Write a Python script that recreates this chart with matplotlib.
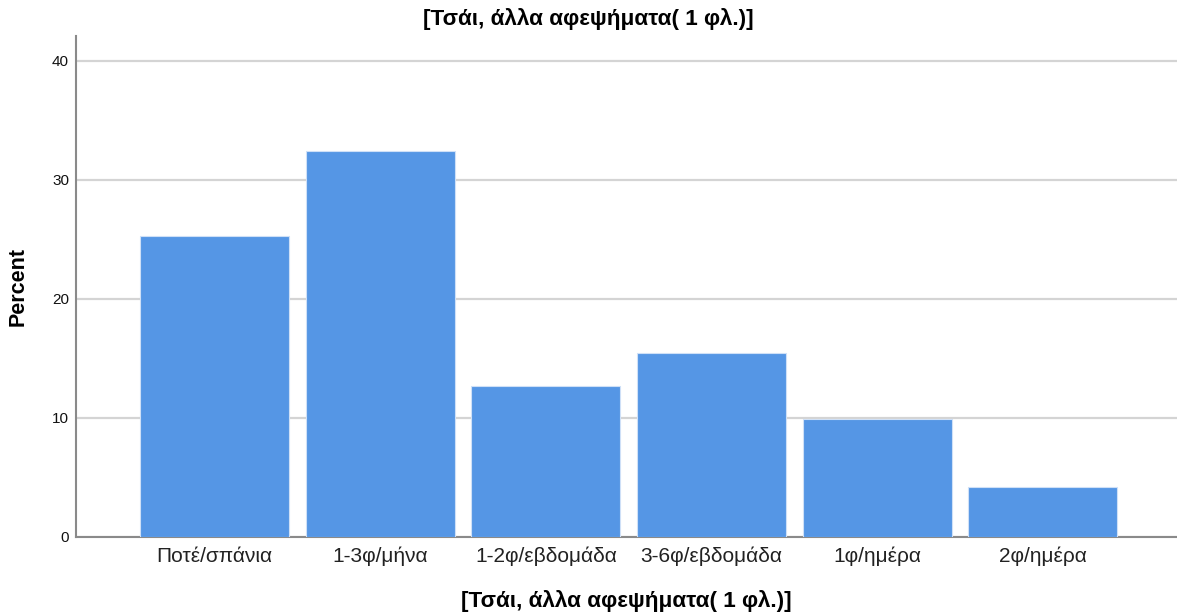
import matplotlib
matplotlib.use("Agg")
import matplotlib.pyplot as plt

categories = ["Ποτέ/σπάνια", "1-3φ/μήνα", "1-2φ/εβδομάδα", "3-6φ/εβδομάδα", "1φ/ημέρα", "2φ/ημέρα"]
percent = [25.3, 32.4, 12.7, 15.5, 9.9, 4.2]
y_ticks = [0, 10, 20, 30, 40]
title = "[Τσάι, άλλα αφεψήματα( 1 φλ.)]"

plt.rcParams["font.family"] = ["Liberation Sans", "DejaVu Sans"]

W, H = 1177, 613
fig = plt.figure(figsize=(W / 100, H / 100), dpi=100)
ax = fig.add_axes([76 / W, 1 - 537 / H, 1 - 76 / W, (537 - 36) / H])

x = list(range(len(categories)))
ax.bar(x, percent, width=0.9, color="#5596e5", edgecolor="#cfe0f7", linewidth=0.8, zorder=3)

ax.set_xlim(-0.836, 5.81)
ax.set_ylim(0, 42.1)
ax.set_yticks(y_ticks)
ax.set_yticklabels([str(v) for v in y_ticks], fontsize=11, color="#111111")
ax.set_xticks(x)
ax.set_xticklabels(categories, fontsize=15, color="#222222")
ax.tick_params(axis="x", length=0, pad=7)
ax.tick_params(axis="y", length=0, pad=5)
ax.yaxis.grid(True, color="#d4d4d4", linewidth=1.6, zorder=0)

for side in ("top", "right"):
    ax.spines[side].set_visible(False)
for side in ("left", "bottom"):
    ax.spines[side].set_color("#8a8a8a")
    ax.spines[side].set_linewidth(1.5)

fig.text(0.5, 1 - 19 / H, title, fontsize=16.2, fontweight="bold", ha="center", va="center")
fig.text((76 + W) / 2 / W, 1 - 601 / H, title, fontsize=16.2, fontweight="bold", ha="center", va="center")
fig.text(18 / W, 1 - 287 / H, "Percent", fontsize=15.5, fontweight="bold", rotation=90, ha="center", va="center")

fig.savefig("out.png", dpi=100)
